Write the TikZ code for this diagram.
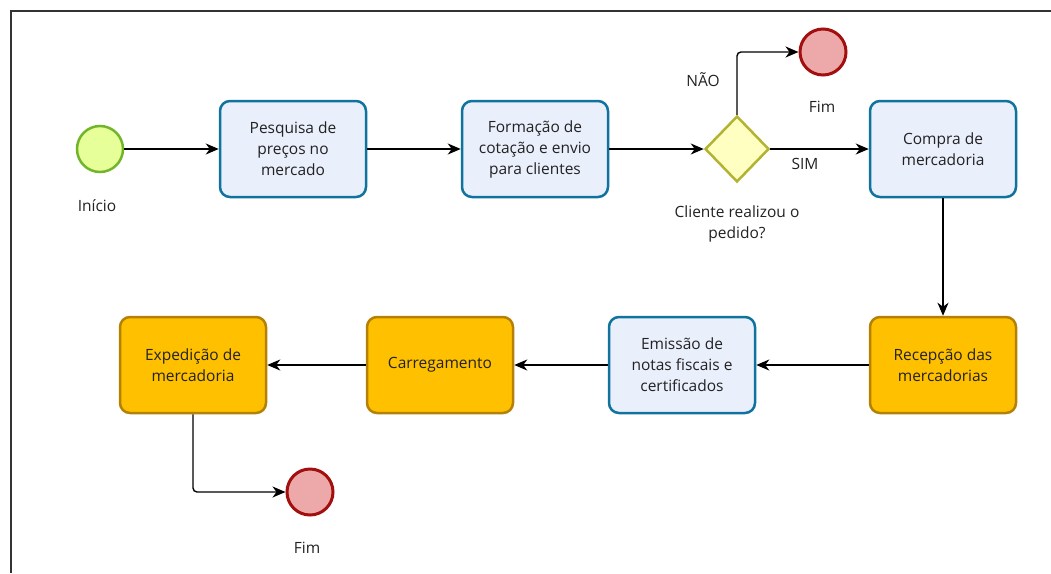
\documentclass[tikz,border=0pt]{standalone}
\usepackage{fontspec}
\setmainfont{Open Sans}
\usetikzlibrary{arrows.meta,shapes.geometric}
\definecolor{bfill}{HTML}{EAEFFC}
\definecolor{bdraw}{HTML}{10739E}
\definecolor{ofill}{HTML}{FFC000}
\definecolor{odraw}{HTML}{B58105}
\definecolor{sfill}{HTML}{E6FF99}
\definecolor{sdraw}{HTML}{72B52A}
\definecolor{efill}{HTML}{EDA9A9}
\definecolor{edraw}{HTML}{A30F0F}
\definecolor{gfill}{HTML}{FFFFC2}
\definecolor{gdraw}{HTML}{B3B332}
\definecolor{txt}{HTML}{222222}
\begin{document}
\begin{tikzpicture}[x=1pt,y=-1pt,
  every node/.style={font=\fontsize{15.5}{21}\selectfont, text=txt},
  task/.style={rectangle, rounded corners=10pt, line width=2.5pt, minimum width=146pt, minimum height=96pt, align=center, inner sep=2pt},
  bluetask/.style={task, fill=bfill, draw=bdraw},
  orangetask/.style={task, fill=ofill, draw=odraw},
  startev/.style={circle, minimum size=46pt, inner sep=0pt, line width=2.5pt, fill=sfill, draw=sdraw},
  endev/.style={circle, minimum size=46pt, inner sep=0pt, line width=3pt, fill=efill, draw=edraw},
  gateway/.style={diamond, minimum width=64pt, minimum height=66pt, inner sep=0pt, line width=2.5pt, fill=gfill, draw=gdraw},
  flow/.style={line width=1.4pt, draw=black, -{Stealth[length=13pt,width=11pt,inset=4pt]}},
  lbl/.style={align=center, inner sep=0pt}]
\useasboundingbox (0,0) rectangle (1051,573);
\draw[line width=2pt, draw=black!80] (10.5,573) -- (10.5,10.5) -- (1051,10.5);

\node[startev] (start) at (100,149) {};
\node[lbl] (startlbl) at (97,206) {Início};
\node[bluetask] (t1) at (293,149) {Pesquisa de\\preços no\\mercado};
\node[bluetask] (t2) at (535,149) {Formação de\\cotação e envio\\para clientes};
\node[gateway] (gw) at (737,149) {};
\node[lbl] (gwlbl) at (737,224) {Cliente realizou o\\pedido?};
\node[endev] (end1) at (823,52) {};
\node[lbl] (end1lbl) at (822,107) {Fim};
\node[lbl] (nao) at (703,80) {NÃO};
\node[lbl] (sim) at (805,164) {SIM};
\node[bluetask] (t3) at (943,149) {Compra de\\mercadoria};
\node[orangetask] (t4) at (943,365) {Recepção das\\mercadorias};
\node[bluetask] (t5) at (682,365) {Emissão de\\notas fiscais e\\certificados};
\node[orangetask] (t6) at (440,365) {Carregamento};
\node[orangetask] (t7) at (193,365) {Expedição de\\mercadoria};
\node[endev] (end2) at (310,492) {};
\node[lbl] (end2lbl) at (307,548) {Fim};

\draw[flow] (start) -- (t1);
\draw[flow] (t1) -- (t2);
\draw[flow] (t2.east) -- (gw.west);
\draw[flow] (gw.east) -- (t3.west);
\draw[flow, rounded corners=4pt] (gw.north) |- (end1.west);
\draw[flow] (t3.south) -- (t4.north);
\draw[flow] (t4.west) -- (t5.east);
\draw[flow] (t5.west) -- (t6.east);
\draw[flow] (t6.west) -- (t7.east);
\draw[flow, rounded corners=4pt] (t7.south) |- (end2.west);
\end{tikzpicture}
\end{document}
